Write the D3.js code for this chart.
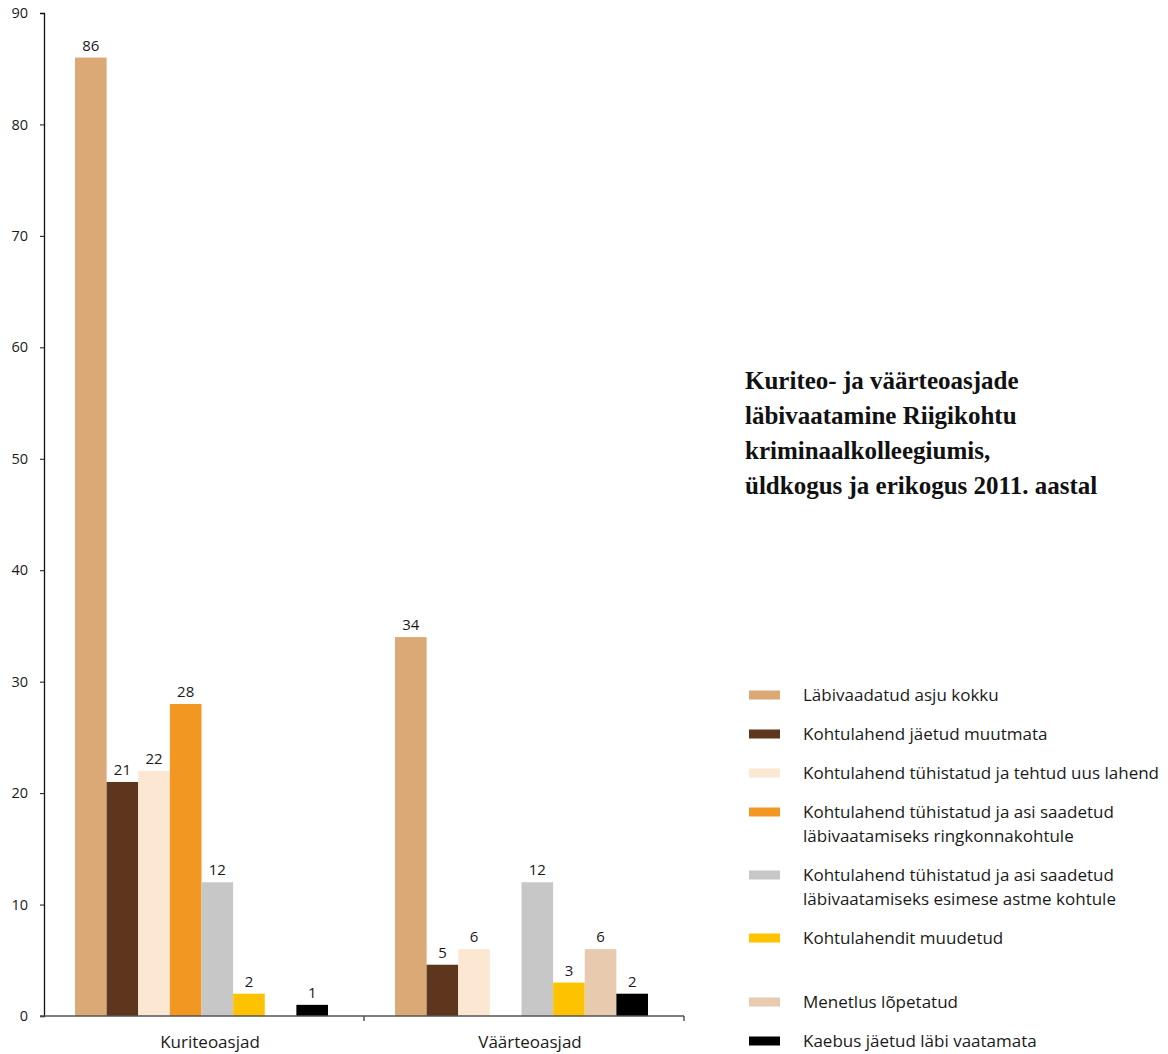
<!DOCTYPE html>
<html>
<head>
<meta charset="utf-8">
<script src="https://cdn.jsdelivr.net/npm/d3@7"></script>
<style>
  body { margin: 0; background: #fff; }
  text { font-family: "Open Sans", sans-serif; fill: #1a1a1a; }
  .title { font-family: "Liberation Serif", serif; font-weight: bold; font-size: 25px; fill: #111; }
</style>
</head>
<body>
<div id="container"></div>
<script>
// Categories and series
var categories = ["Kuriteoasjad", "Väärteoasjad"];
var series = [
  "Läbivaadatud asju kokku",
  "Kohtulahend jäetud muutmata",
  "Kohtulahend tühistatud ja tehtud uus lahend",
  "Kohtulahend tühistatud ja asi saadetud\nläbivaatamiseks ringkonnakohtule",
  "Kohtulahend tühistatud ja asi saadetud\nläbivaatamiseks esimese astme kohtule",
  "Kohtulahendit muudetud",
  "Menetlus lõpetatud",
  "Kaebus jäetud läbi vaatamata"
];
var colours = ["#dba976", "#5e351d", "#fce8d2", "#f29722", "#c6c7c6", "#fdc300", "#e8caaf", "#000000"];

// values per category, one per series (null = no bar)
var kuriteoValues = [86, 21, 22, 28, 12, 2, null, 1];
var vaarteoValues = [34, 4.6, 6, null, 12, 3, 6, 2];

var yTicks = [0, 10, 20, 30, 40, 50, 60, 70, 80, 90];
var titleLines = [
  "Kuriteo- ja väärteoasjade",
  "läbivaatamine Riigikohtu",
  "kriminaalkolleegiumis,",
  "üldkogus ja erikogus 2011. aastal"
];

var width = 1168, height = 1054;
var svg = d3.select("#container").append("svg")
  .attr("width", width).attr("height", height);

var plotLeft = 44, plotRight = 684, plotTop = 13, plotBottom = 1016;

var yScale = d3.scaleLinear().domain([0, 90]).range([plotBottom, plotTop]);
var x0 = d3.scaleBand().domain(categories).range([plotLeft, plotRight]);
var x1 = d3.scaleBand().domain(d3.range(series.length)).range([31, 284]);

var rows = [kuriteoValues, vaarteoValues];

// bars
var groups = svg.selectAll(".grp")
  .data(categories)
  .enter().append("g")
  .attr("class", "grp")
  .attr("transform", function(d) { return "translate(" + x0(d) + ",0)"; });

groups.each(function(cat, ci) {
  var g = d3.select(this);
  var data = rows[ci].map(function(v, i) { return {v: v, i: i}; })
    .filter(function(d) { return d.v != null; });
  g.selectAll("rect").data(data).enter().append("rect")
    .attr("x", function(d) { return x1(d.i); })
    .attr("width", x1.bandwidth())
    .attr("y", function(d) { return yScale(d.v); })
    .attr("height", function(d) { return plotBottom - yScale(d.v); })
    .attr("fill", function(d) { return colours[d.i]; });
  g.selectAll("text.val").data(data).enter().append("text")
    .attr("class", "val")
    .attr("x", function(d) { return x1(d.i) + x1.bandwidth() / 2; })
    .attr("y", function(d) { return yScale(d.v) - 7; })
    .attr("text-anchor", "middle")
    .style("font-size", "15px")
    .text(function(d) { return Math.round(d.v); });
});

// y axis
var yAxis = d3.axisLeft(yScale).tickValues(yTicks).tickSize(4).tickPadding(12);
var ya = svg.append("g").attr("transform", "translate(" + plotLeft + ",0)").call(yAxis);
ya.select(".domain").attr("stroke", "#111").attr("stroke-width", 1.3);
ya.selectAll(".tick line").attr("stroke", "#111");
ya.selectAll(".tick text").style("font-size", "14.5px").style("font-family", "Open Sans").attr("fill", "#1a1a1a");

// x axis
svg.append("line")
  .attr("x1", plotLeft - 4).attr("x2", plotRight)
  .attr("y1", plotBottom).attr("y2", plotBottom)
  .attr("stroke", "#555").attr("stroke-width", 1.5);
svg.selectAll(".xtick").data(categories).enter().append("line")
  .attr("x1", function(d) { return x0(d) + x0.bandwidth(); })
  .attr("x2", function(d) { return x0(d) + x0.bandwidth(); })
  .attr("y1", plotBottom).attr("y2", plotBottom + 5)
  .attr("stroke", "#555").attr("stroke-width", 1.5);
svg.selectAll(".xlab").data(categories).enter().append("text")
  .attr("x", function(d) { return x0(d) + x0.bandwidth() / 2 + 6; })
  .attr("y", 1048)
  .attr("text-anchor", "middle")
  .style("font-size", "17px")
  .text(function(d) { return d; });

// title
svg.selectAll(".title").data(titleLines).enter().append("text")
  .attr("class", "title")
  .attr("x", 745)
  .attr("y", function(d, i) { return 389 + i * 35; })
  .text(function(d) { return d; });

// legend
var legend = svg.append("g");
var ly = 695;
series.forEach(function(name, i) {
  var lines = name.split("\n");
  legend.append("rect")
    .attr("x", 749).attr("y", ly - 4.5)
    .attr("width", 31).attr("height", 9)
    .attr("fill", colours[i]);
  lines.forEach(function(line, j) {
    legend.append("text")
      .attr("x", 803).attr("y", ly + 6 + j * 24)
      .style("font-size", "17px")
      .text(line);
  });
  ly += 39 + 24 * (lines.length - 1);
  if (i == 5) ly += 25;
});
</script>
</body>
</html>
